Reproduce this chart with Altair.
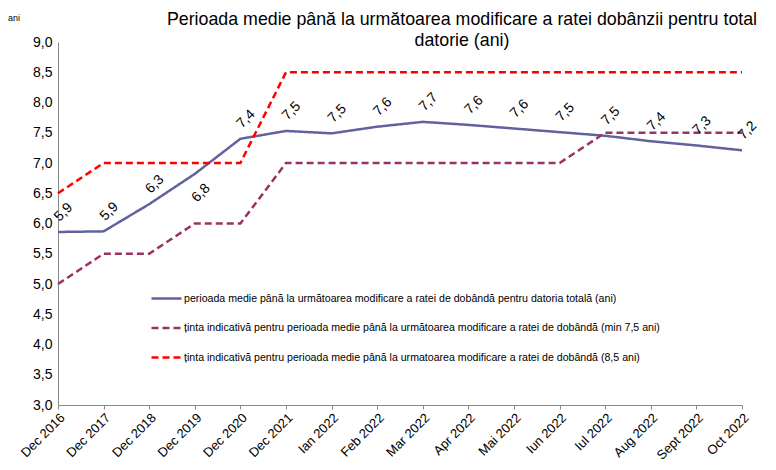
import altair as alt
import pandas as pd

categories = ["Dec 2016", "Dec 2017", "Dec 2018", "Dec 2019", "Dec 2020", "Dec 2021",
              "Ian 2022", "Feb 2022", "Mar 2022", "Apr 2022", "Mai 2022", "Iun 2022",
              "Iul 2022", "Aug 2022", "Sept 2022", "Oct 2022"]
actual = [5.86, 5.87, 6.32, 6.82, 7.40, 7.53, 7.49, 7.60, 7.68, 7.63, 7.57, 7.51,
          7.45, 7.36, 7.29, 7.21]
actual_labels = ["5,9", "5,9", "6,3", "6,8", "7,4", "7,5", "7,5", "7,6", "7,7", "7,6",
                 "7,6", "7,5", "7,5", "7,4", "7,3", "7,2"]
target_min = [5.0, 5.5, 5.5, 6.0, 6.0, 7.0, 7.0, 7.0, 7.0, 7.0, 7.0, 7.0, 7.5, 7.5, 7.5, 7.5]
target_85 = [6.5, 7.0, 7.0, 7.0, 7.0, 8.5, 8.5, 8.5, 8.5, 8.5, 8.5, 8.5, 8.5, 8.5, 8.5, 8.5]
y_ticks = [3.0, 3.5, 4.0, 4.5, 5.0, 5.5, 6.0, 6.5, 7.0, 7.5, 8.0, 8.5, 9.0]

title_lines = ["Perioada medie până la următoarea modificare a ratei dobânzii pentru total",
               "datorie (ani)"]
s1 = "perioada medie până la următoarea modificare a ratei de dobândă pentru datoria totală (ani)"
s2 = "ținta indicativă pentru perioada medie până la următoarea modificare a ratei de dobândă (min 7,5 ani)"
s3 = "ținta indicativă pentru perioada medie până la urmatoarea modificare a ratei de dobândă (8,5 ani)"
series_names = [s1, s2, s3]
series_colors = ["#62629E", "#993366", "#FF0000"]

rows = []
for name, vals in zip(series_names, [actual, target_min, target_85]):
    for c, v in zip(categories, vals):
        rows.append({"cat": c, "value": v, "series": name})
df = pd.DataFrame(rows)
lab = pd.DataFrame({"cat": categories, "value": actual, "label": actual_labels})

FONT = "Liberation Sans"

x = alt.X("cat:N", sort=categories, scale=alt.Scale(type="point", padding=0),
          axis=alt.Axis(title=None, labelAngle=315, labelAlign="right", labelBaseline="top",
                        labelFontSize=13, labelColor="#000", labelFont=FONT,
                        domainColor="#888", tickColor="#888", tickSize=4, labelPadding=2,
                        labelOverlap=False, grid=False))
y = alt.Y("value:Q", scale=alt.Scale(domain=[3, 9], nice=False, zero=False),
          axis=alt.Axis(values=y_ticks,
                        labelExpr="replace(format(datum.value, '.1f'), '.', ',')",
                        labelFontSize=14, labelColor="#000", labelFont=FONT,
                        labelOverlap=False, labelBound=False,
                        domainColor="#888", ticks=False, labelPadding=6, grid=False,
                        title=None))

lines = alt.Chart(df).mark_line(strokeWidth=2.5).encode(
    x=x, y=y,
    color=alt.Color("series:N", scale=alt.Scale(domain=series_names, range=series_colors),
                    sort=series_names,
                    legend=alt.Legend(title=None, orient="none", legendX=92, legendY=240,
                                      symbolType="stroke", symbolSize=900,
                                      symbolStrokeWidth=2.5, labelFontSize=10.6,
                                      labelFont=FONT, labelColor="#000", labelLimit=0,
                                      rowPadding=6.5, labelOffset=1)),
    strokeDash=alt.StrokeDash("series:N",
                              scale=alt.Scale(domain=series_names,
                                              range=[[1, 0], [7, 4], [7, 4]]),
                              sort=series_names, legend=None),
)

base_lab = alt.Chart(lab).encode(x=x, y=y, text="label:N")
labels_above = base_lab.transform_filter(alt.datum.cat != "Dec 2019").mark_text(
    angle=315, align="center", baseline="middle", fontSize=14, font=FONT, color="#000",
    dx=18, dy=-10)
labels_below = base_lab.transform_filter(alt.datum.cat == "Dec 2019").mark_text(
    angle=315, align="center", baseline="middle", fontSize=14, font=FONT, color="#000",
    dx=-9, dy=18)

ani = alt.Chart(pd.DataFrame({"t": ["ani"]})).mark_text(
    fontSize=9, font=FONT, color="#000", align="center", baseline="middle").encode(
    text="t:N", x=alt.value(-44), y=alt.value(-24))

title = alt.Chart(pd.DataFrame({"t": [title_lines]})).mark_text(
    fontSize=17.8, font=FONT, color="#000", align="center", baseline="middle",
    lineHeight=21).encode(text="t", x=alt.value(404), y=alt.value(-22))

chart = alt.layer(lines, labels_above, labels_below, ani, title).properties(
    width=684, height=363,
    padding={"left": 50, "top": 34, "right": 26, "bottom": 57},
    autosize=alt.AutoSizeParams(type="none"),
).configure_view(stroke=None)

chart.save("out.html", embed_options={"renderer": "svg", "actions": False})
